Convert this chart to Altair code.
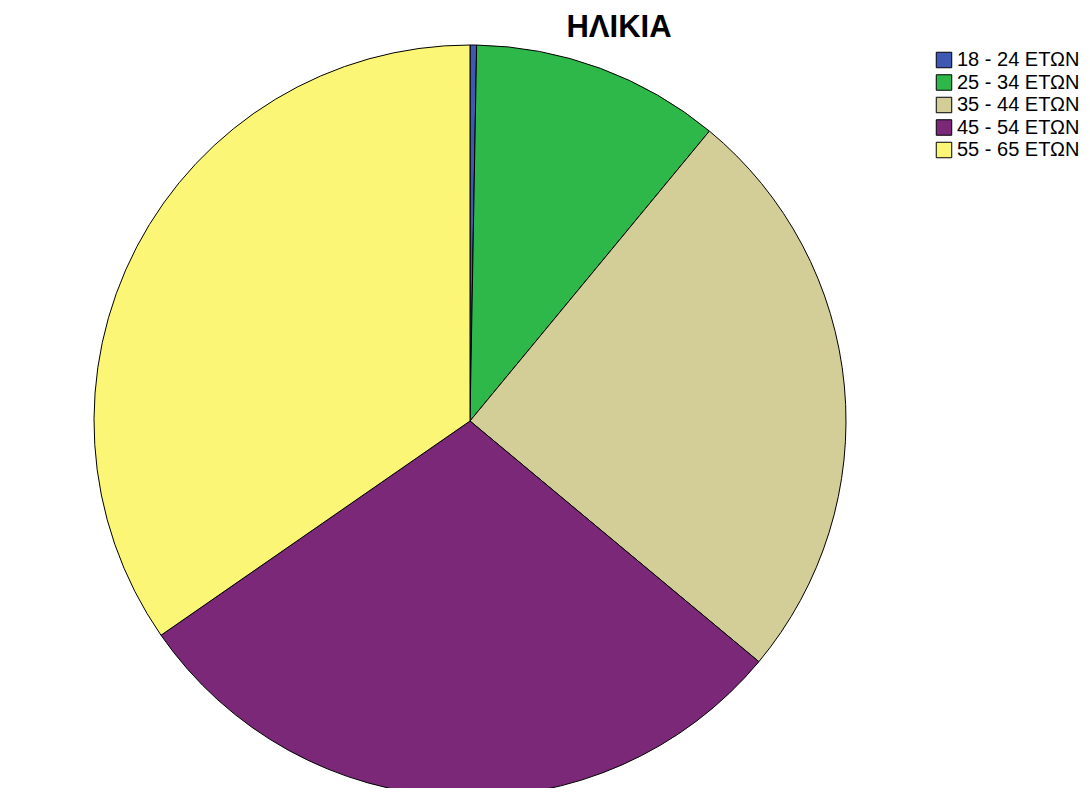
import altair as alt
import pandas as pd

categories = ["18 - 24 ΕΤΩΝ", "25 - 34 ΕΤΩΝ", "35 - 44 ΕΤΩΝ", "45 - 54 ΕΤΩΝ", "55 - 65 ΕΤΩΝ"]
counts = [1, 38, 89, 104, 123]
colors = ["#3F58B4", "#2EB84A", "#D3CD98", "#7B2879", "#FBF675"]

df = pd.DataFrame({"age": categories, "count": counts, "order": list(range(len(categories)))})

chart = (
    alt.Chart(df)
    .mark_arc(stroke="black", strokeWidth=1, radius=376)
    .encode(
        theta=alt.Theta("count:Q", stack=True),
        color=alt.Color(
            "age:N",
            scale=alt.Scale(domain=categories, range=colors),
            legend=alt.Legend(
                title=None,
                orient="none",
                legendX=926,
                legendY=-3,
                symbolType="square",
                symbolSize=240,
                symbolStrokeColor="black",
                symbolStrokeWidth=1,
                symbolOpacity=1,
                labelFontSize=20,
                labelFont="Liberation Sans",
                labelColor="black",
                labelOffset=3,
                rowPadding=2.5,
            ),
        ),
        order=alt.Order("order:Q"),
        x=alt.value(462),
        y=alt.value(368),
    )
    .properties(
        width=1074,
        height=735,
        padding={"left": 0, "top": 45, "right": 0, "bottom": 0},
        autosize=alt.AutoSizeParams(type="none"),
        title=alt.TitleParams(
            "ΗΛΙΚΙΑ",
            font="Liberation Sans",
            fontSize=31,
            fontWeight="bold",
            color="black",
            anchor="middle",
            frame="group",
            dx=74,
            dy=5,
            offset=4,
        ),
    )
    .configure_view(stroke=None)
)

chart.save("out.html", embed_options={"renderer": "svg", "actions": False})
